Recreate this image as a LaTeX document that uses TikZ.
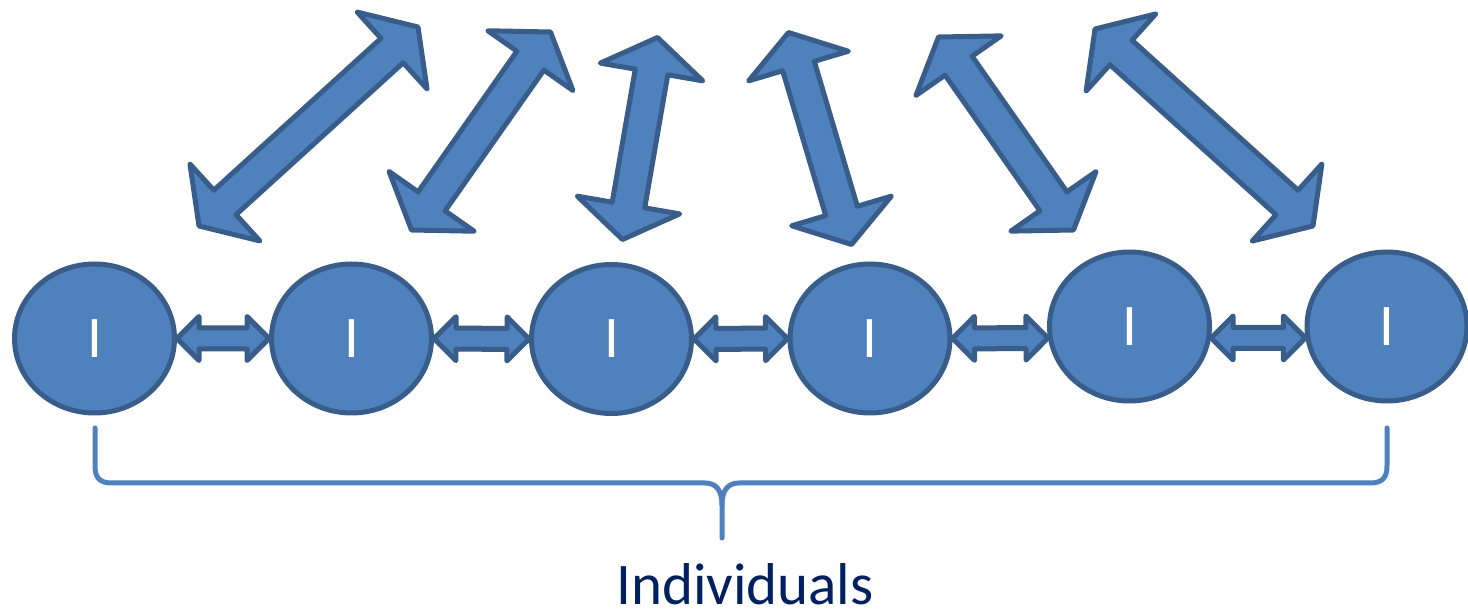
\documentclass[tikz,border=0pt]{standalone}
\usepackage{fontspec}
\setmainfont{Carlito}
\usetikzlibrary{calc,shapes.geometric}

\definecolor{shapefill}{HTML}{4F81BD}
\definecolor{shapeline}{HTML}{385D8A}
\definecolor{labelnavy}{HTML}{002060}

% Two-headed block arrow between two named points.
% #1 style, #2 from, #3 to, #4 shaft half-width, #5 head half-width, #6 head length
\newcommand\twohead[6]{%
  \path let \p1=($(#3)-(#2)$) in \pgfextra{%
    \pgfmathsetmacro\tmpang{atan2(\y1,\x1)}%
    \pgfmathsetmacro\tmplen{veclen(\x1,\y1)}%
    \global\let\twang\tmpang \global\let\twlen\tmplen};
  \begin{scope}[shift={(#2)}, rotate=\twang]
    \draw[#1] (0,0) -- (#6,#5) -- (#6,#4) -- (\twlen-#6,#4) -- (\twlen-#6,#5)
      -- (\twlen,0) -- (\twlen-#6,-#5) -- (\twlen-#6,-#4) -- (#6,-#4) -- (#6,-#5) -- cycle;
  \end{scope}}

\tikzset{
  person/.style={ellipse, draw=shapeline, fill=shapefill, line width=5pt,
    minimum width=160pt, minimum height=149pt, inner sep=0pt,
    text=white, font=\fontsize{59}{60}\selectfont},
  blockarrow/.style={draw=shapeline, fill=shapefill, line width=5pt, line join=round},
  groupbrace/.style={draw=shapefill, line width=5pt, line cap=round, line join=round},
  grouplabel/.style={anchor=base, text=labelnavy, inner sep=0pt,
    font=\fontsize{59}{60}\selectfont}
}

\begin{document}
\begin{tikzpicture}[x=1pt, y=-1pt]
\useasboundingbox (0,0) rectangle (1468,609);

% individuals
\node[person] (e1) at (94.5,338.5) {I};
\node[person] (e2) at (351.5,338.5) {I};
\node[person] (e3) at (611.5,339) {I};
\node[person] (e4) at (870,338.5) {I};
\node[person] (e5) at (1129.5,326.5) {I};
\node[person] (e6) at (1387,326.5) {I};

% links between neighbours
\twohead{blockarrow}{e1.east}{e2.west}{10.5}{22}{22}
\twohead{blockarrow}{e2.east}{e3.west}{10.5}{22}{22}
\twohead{blockarrow}{e3.east}{e4.west}{10.5}{22}{22}
\twohead{blockarrow}{e4.east}{e5.188.3}{10.5}{22}{22}
\twohead{blockarrow}{e5.-8.3}{e6.188.3}{10.5}{22}{22}

% links across the group
\coordinate (a1l) at (199,226);   \coordinate (a1u) at (418,27);
\coordinate (a2l) at (411.5,230); \coordinate (a2u) at (550.5,32);
\coordinate (a3l) at (622.5,239.5); \coordinate (a3u) at (657.5,37.5);
\coordinate (a4l) at (851.5,244.5); \coordinate (a4u) at (788.5,32.5);
\coordinate (a5l) at (1073.5,230); \coordinate (a5u) at (938.5,37);
\coordinate (a6l) at (1313,226);  \coordinate (a6u) at (1095,29);
\twohead{blockarrow}{a1l}{a1u}{16.5}{52}{35}
\twohead{blockarrow}{a2l}{a2u}{16.5}{52}{35}
\twohead{blockarrow}{a3l}{a3u}{16.5}{52}{35}
\twohead{blockarrow}{a4l}{a4u}{16.5}{52}{35}
\twohead{blockarrow}{a5l}{a5u}{16.5}{52}{35}
\twohead{blockarrow}{a6l}{a6u}{16.5}{52}{35}

% brace under the group
\coordinate (bl) at (95,428);
\coordinate (br) at (1387,428);
\coordinate (bm) at (722,538);
\draw[groupbrace] (bl) -- (95,466) .. controls (95,478) and (100,483) .. (112,483)
  -- (705,483) .. controls (716,483) and (722,490) .. (722,505) -- (bm);
\draw[groupbrace] (br) -- (1387,466) .. controls (1387,478) and (1382,483) .. (1370,483)
  -- (739,483) .. controls (728,483) and (722,490) .. (722,505);

\node[grouplabel] (label) at (745,604) {Individuals};
\end{tikzpicture}
\end{document}
